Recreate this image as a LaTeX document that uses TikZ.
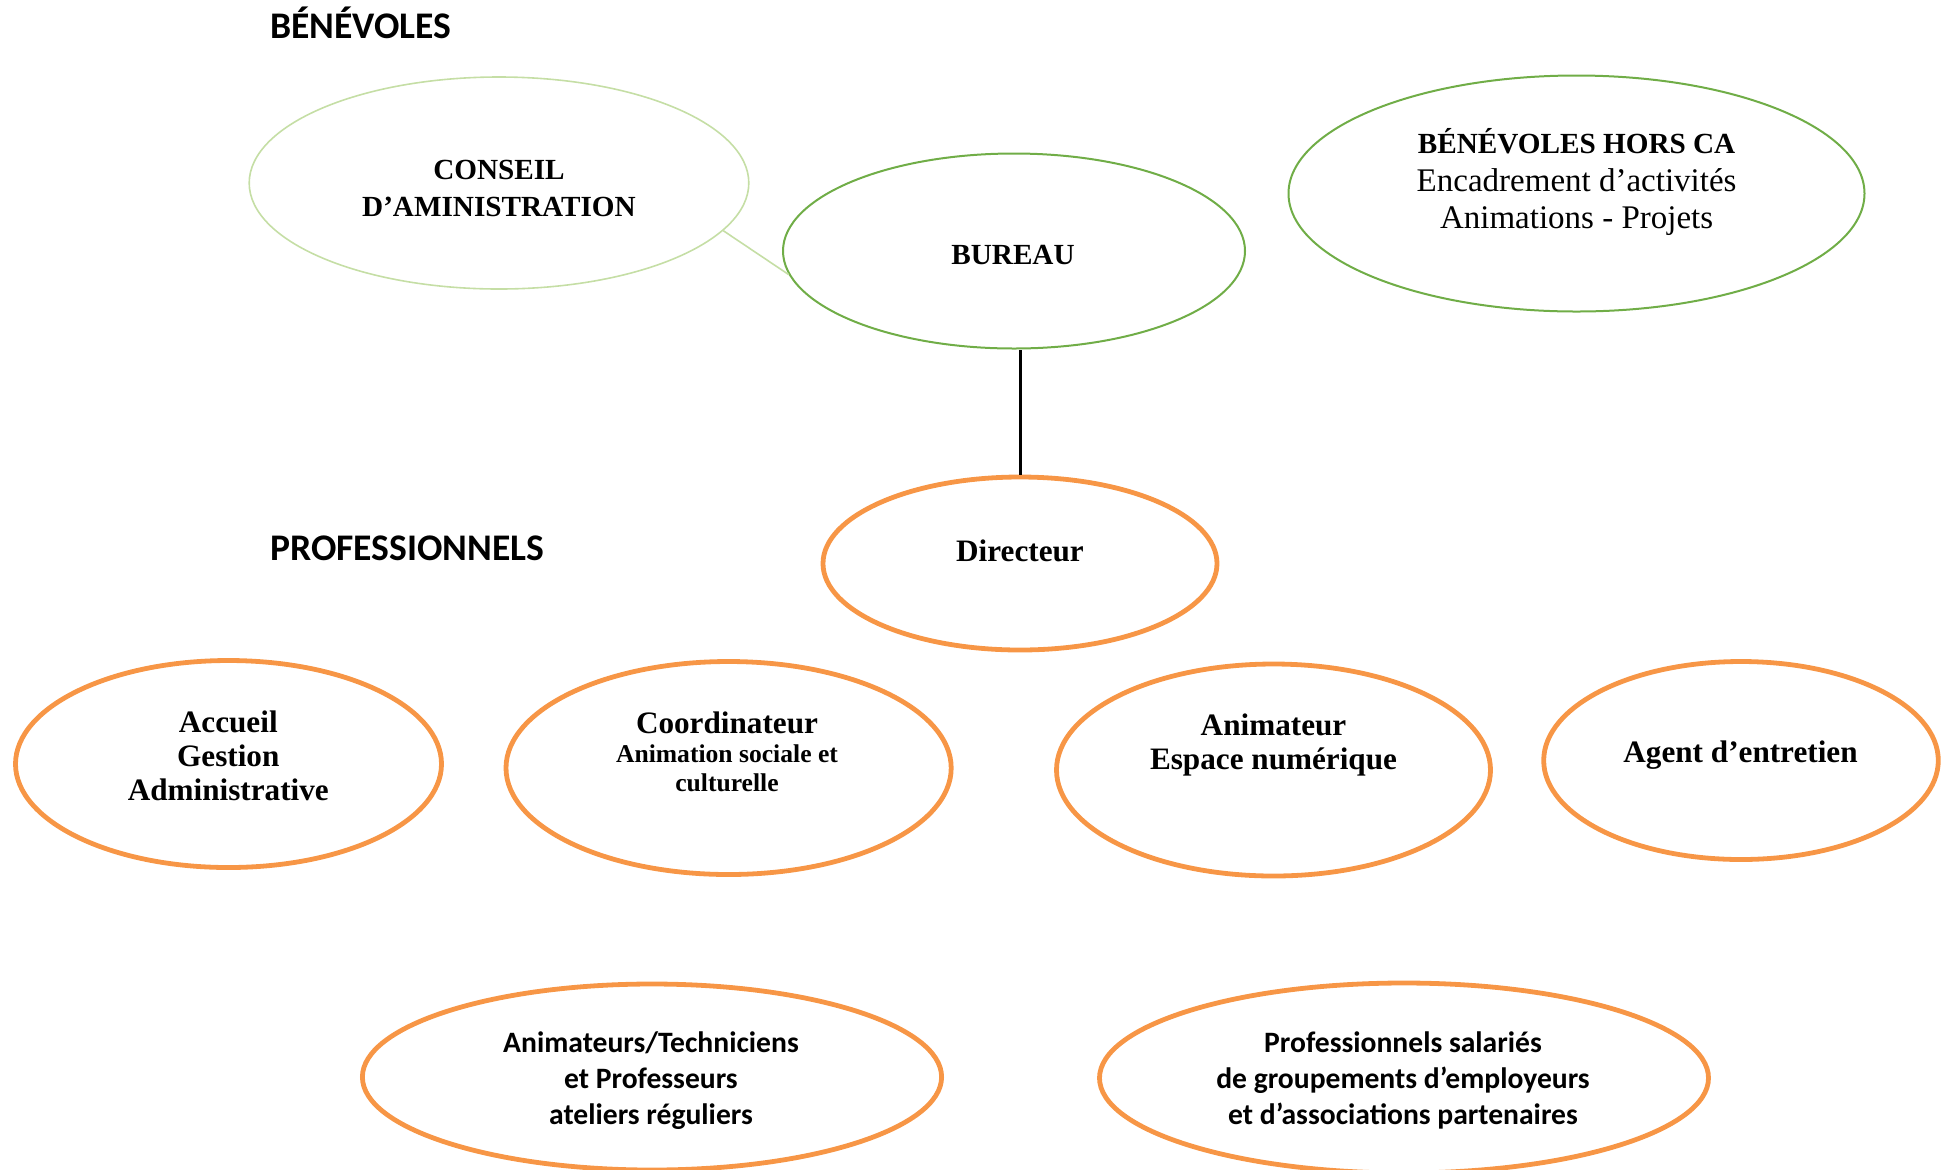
\documentclass[tikz,border=0pt]{standalone}
\usepackage{fontspec}
\setmainfont{Liberation Serif}
\newfontfamily\calibri{Carlito}
\usetikzlibrary{shapes.geometric}
\definecolor{palegreen}{HTML}{C5DEA5}
\definecolor{leafgreen}{HTML}{70AD47}
\definecolor{tangerine}{HTML}{F79646}

\begin{document}
\begin{tikzpicture}[x=0.5pt,y=-0.5pt,
  bubble/.style={ellipse,inner sep=0pt},
  greenbub/.style={bubble,draw=leafgreen,line width=1pt},
  palebub/.style={bubble,draw=palegreen,line width=.8pt},
  orangebub/.style={bubble,draw=tangerine,line width=2.4pt},
  headtext/.style={font=\calibri\bfseries\fontsize{18.8}{22}\selectfont,anchor=base west,inner sep=0pt},
  capstext/.style={align=center,inner sep=0pt,font=\bfseries\fontsize{14.6}{18.3}\selectfont},
  roletext/.style={align=center,inner sep=0pt,font=\bfseries\fontsize{15.6}{17}\selectfont},
  sanstext/.style={align=center,inner sep=0pt,font=\calibri\bfseries\fontsize{14.8}{18}\selectfont}]
\useasboundingbox (0,0) rectangle (1944,1169);

\node[headtext] (benevoles) at (270,38) {BÉNÉVOLES};
\node[headtext] (pros)      at (270,560) {PROFESSIONNELS};

\node[palebub,  minimum width=249.8pt,minimum height=106pt]  (conseil)   at (499,183)    {};
\node[greenbub, minimum width=231pt,  minimum height=97.5pt] (bureau)    at (1014,251)   {};
\node[greenbub, minimum width=288pt,  minimum height=118pt]  (hors)      at (1576.5,193.5) {};

\node[orangebub,minimum width=197pt,  minimum height=86.5pt] (directeur) at (1020,563.5) {};
\node[orangebub,minimum width=213pt,  minimum height=103.5pt](accueil)   at (228.5,764)  {};
\node[orangebub,minimum width=222.6pt,minimum height=106.5pt](coord)     at (728.6,768)  {};
\node[orangebub,minimum width=217pt,  minimum height=106pt]  (animateur) at (1273.5,770) {};
\node[orangebub,minimum width=197.3pt,minimum height=99pt]   (agent)     at (1741,760.5) {};
\node[orangebub,minimum width=289.6pt,minimum height=93pt]   (animtech)  at (652,1077)   {};
\node[orangebub,minimum width=304.5pt,minimum height=95pt]   (profsal)   at (1404,1078)  {};

\node[capstext] (conseil-t) at (499,188.5) {CONSEIL\\D’AMINISTRATION};
\node[capstext] (bureau-t)  at (1013,255) {BUREAU};
\node[capstext,font=\bfseries\fontsize{14.6}{18.7}\selectfont] (hors-t) at (1576.6,182)
  {BÉNÉVOLES HORS CA\\{\mdseries\fontsize{16.5}{18.7}\selectfont Encadrement d’activités}\\{\mdseries\fontsize{16.5}{18.7}\selectfont Animations - Projets}};

\node[roletext] (directeur-t) at (1020,550.5) {Directeur};
\node[roletext] (accueil-t)   at (228.3,755.8) {Accueil\\Gestion\\Administrative};
\node[roletext,font=\bfseries\fontsize{15.6}{14.4}\selectfont] (coord-t) at (727,752)
  {Coordinateur\\{\fontsize{12.8}{14.4}\selectfont Animation sociale et}\\{\fontsize{12.8}{14.4}\selectfont culturelle}};
\node[roletext] (animateur-t) at (1273.5,745) {Animateur\\Espace numérique};
\node[roletext] (agent-t)     at (1740.5,755) {Agent d’entretien};

\node[sanstext] (animtech-t) at (651,1080.5) {Animateurs/Techniciens\\et Professeurs\\ateliers réguliers};
\node[sanstext] (profsal-t)  at (1403,1080.5) {Professionnels salariés\\de groupements d’employeurs\\et d’associations partenaires};

\draw[palegreen,line width=.8pt] (conseil.-12.8) -- (bureau.186.2);
\draw[line width=1.5pt] (directeur.north) -- (directeur.north |- bureau.south);

\end{tikzpicture}
\end{document}
